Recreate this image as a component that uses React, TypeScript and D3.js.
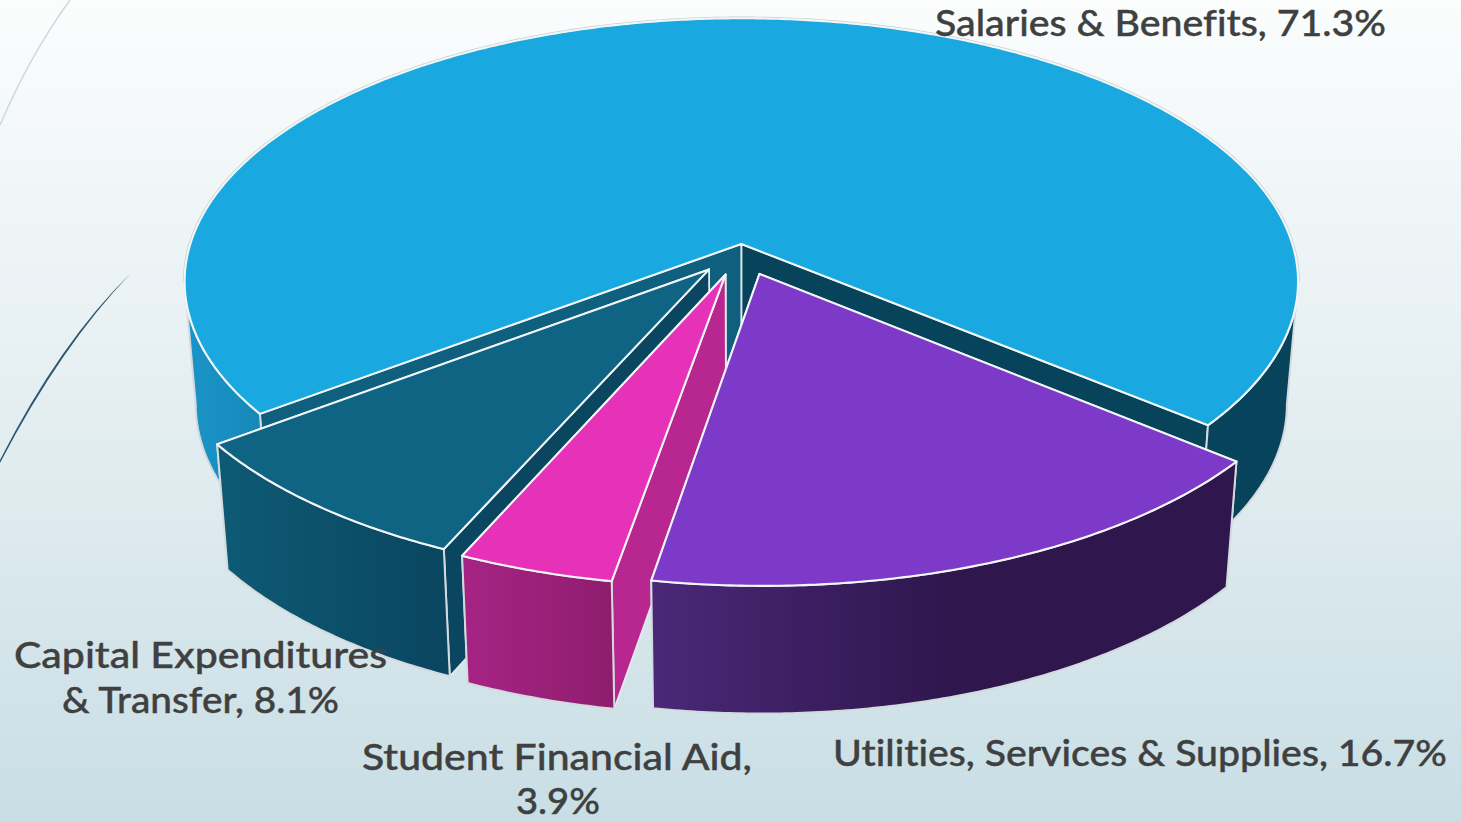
import React from 'react';
import * as d3 from 'd3';

const categories = ['Salaries & Benefits', 'Utilities, Services & Supplies', 'Student Financial Aid', 'Capital Expenditures & Transfer'];
const shares = [71.3, 16.7, 3.9, 8.1];
const explode = [0.025, 0.095, 0.095, 0.092];

const topColors = ['#19A8E0', '#7D3AC8', '#E631B9', '#0F6483'];
const startWallColors = ['#0F5F7E', '#2F174E', '#B8268F', '#0A4660'];
const endWallColors = ['#07435A', '#2F174E', '#B8268F', '#0A4660'];
const outerWallStops = [
  [['0', '#1A95CA'], ['0.07', '#1788B8'], ['0.9', '#07435A'], ['1', '#07435A']],
  [['0', '#4A2878'], ['0.5', '#2F174E'], ['1', '#2F174E']],
  [['0', '#A62484'], ['1', '#8E1D6E']],
  [['0', '#0E5A75'], ['1', '#0A4660']],
];
const drawOrder = [0, 3, 2, 1];

// split label lines, same order as categories
const labelLines = [
  ['Salaries & Benefits, 71.3%'],
  ['Utilities, Services & Supplies, 16.7%'],
  ['Student Financial Aid,', '3.9%'],
  ['Capital Expenditures', '& Transfer, 8.1%'],
];
const labelBoxes = [
  [[935, 36, 451]],
  [[833, 766, 614]],
  [[362, 770, 390], [516, 814, 84]],
  [[14, 668, 373], [62, 713, 277]],
];

// perspective set-up, fitted by eye to the picture
const W = 1461;
const H = 822;
const originX = 741;
const originY = 244;
const radiusX = 551;
const radiusY = 258;
const camera = 7;
const baseY = 0.025;
const startDeg = 233;
const toRad = Math.PI / 180;

const project = (wx: number, wy: number, bottom: boolean): [number, number] => {
  const s = camera / (camera - wy);
  const x = radiusX * wx * s;
  const y = radiusY * wy * s;
  if (!bottom) return [originX + x, originY + y];
  return [originX + 0.98 * x, originY + 1.0167 * y + 122];
};

const pie = d3.pie<number>().sort(null).value(d => d)
  .startAngle(startDeg * toRad)
  .endAngle((startDeg + 360) * toRad);
const arcs = pie(shares);

const line = d3.line();

const samples = (a0: number, a1: number) => {
  const n = Math.max(2, Math.ceil(Math.abs(a1 - a0) / (0.5 * toRad)));
  return d3.range(n + 1).map(i => a0 + ((a1 - a0) * i) / n);
};

// silhouette of the cylinder, outer wall is only seen between these two angles
const frontFrom = (90 + Math.asin(1 / camera) / toRad) * toRad;
const frontTo = (270 - Math.asin(1 / camera) / toRad) * toRad;

const frontRanges = (a0: number, a1: number) => {
  const out: [number, number][] = [];
  [0, 2 * Math.PI].forEach(k => {
    const lo = Math.max(a0, frontFrom + k);
    const hi = Math.min(a1, frontTo + k);
    if (hi > lo) out.push([lo, hi]);
  });
  return out;
};

export default function App() {
  const slices = arcs.map((d, i) => {
    const mid = (d.startAngle + d.endAngle) / 2;
    const cx = Math.sin(mid) * explode[i];
    const cy = baseY - Math.cos(mid) * explode[i];
    const rim = (a: number, bottom: boolean) => project(cx + Math.sin(a), cy - Math.cos(a), bottom);
    const apexTop = project(cx, cy, false);
    const apexBottom = project(cx, cy, true);

    const top = line([apexTop, ...samples(d.startAngle, d.endAngle).map(a => rim(a, false))]) + 'Z';
    const startWall = line([apexTop, rim(d.startAngle, false), rim(d.startAngle, true), apexBottom]) + 'Z';
    const endWall = line([apexTop, rim(d.endAngle, false), rim(d.endAngle, true), apexBottom]) + 'Z';
    const outer = frontRanges(d.startAngle, d.endAngle).map(([lo, hi]) => {
      const pts = samples(lo, hi);
      return line([...pts.map(a => rim(a, false)), ...pts.slice().reverse().map(a => rim(a, true))]) + 'Z';
    });
    // rear rim of the big slice carries a soft grey edge
    const rear = i === 0 ? line(samples(frontTo, frontFrom + 2 * Math.PI).map(a => rim(a, false))) : null;
    const xs = samples(d.startAngle, d.endAngle).map(a => rim(a, false)[0]);
    return { top, startWall, endWall, outer, rear, x0: d3.min(xs) as number, x1: d3.max(xs) as number };
  });

  return (
    <svg width={W} height={H} viewBox={`0 0 ${W} ${H}`} style={{ position: 'absolute', left: 0, top: 0, display: 'block' }}>
      <defs>
        <linearGradient id="bg" x1="0" y1="0" x2="0" y2="1">
          <stop offset="0" stopColor="#FBFDFD" />
          <stop offset="0.6" stopColor="#DFEBEF" />
          <stop offset="1" stopColor="#C8DEE5" />
        </linearGradient>
        {slices.map((s, i) => (
          <linearGradient key={i} id={`wall${i}`} gradientUnits="userSpaceOnUse" x1={s.x0} y1="0" x2={s.x1} y2="0">
            {outerWallStops[i].map(([o, c]) => <stop key={o} offset={o} stopColor={c} />)}
          </linearGradient>
        ))}
      </defs>
      <rect width={W} height={H} fill="url(#bg)" />

      {/* swooshes on the slide background */}
      <path d="M70,0 Q30,55 0,125" fill="none" stroke="#CDD7DB" strokeWidth={1.4} />
      <path d="M131,273 Q60,342 0,460 L0,463 Q61,346 131,273 Z" fill="#2D5770" />

      {drawOrder.map(i => {
        const s = slices[i];
        return (
          <g key={categories[i]} strokeLinejoin="round">
            <path d={s.endWall} fill={endWallColors[i]} stroke="#E4EAEC" strokeWidth={1.8} />
            <path d={s.startWall} fill={startWallColors[i]} stroke="#E4EAEC" strokeWidth={1.8} />
            {s.outer.map((o, k) => (
              <path key={k} d={o} fill={`url(#wall${i})`} stroke="#D3DADD" strokeWidth={2} />
            ))}
            {s.rear && <path d={s.rear} fill="none" stroke="#C4CDD1" strokeWidth={3.4} />}
            <path d={s.top} fill={topColors[i]} stroke="#F2F6F7" strokeWidth={2.1} />
          </g>
        );
      })}

      {labelLines.map((lines, i) =>
        lines.map((t, k) => {
          const [x, y, len] = labelBoxes[i][k];
          return (
            <text key={t} x={x} y={y} textLength={len} lengthAdjust="spacingAndGlyphs"
              fontFamily="Lato, 'Open Sans', sans-serif" fontSize={37} fontWeight={500}
              fill="#404040" stroke="#404040" strokeWidth={0.4}
              style={{ fontVariantLigatures: 'none' }}>
              {t}
            </text>
          );
        })
      )}
    </svg>
  );
}
